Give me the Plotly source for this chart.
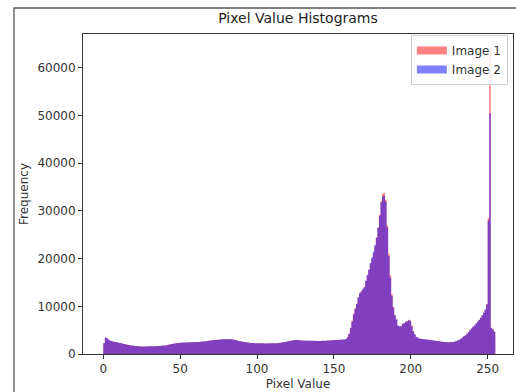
import plotly.graph_objects as go

# Histogram counts per bin (256 bins spanning pixel values 0..255)
image_1 = [
    2300, 3500, 3300, 3050, 2850, 2700, 2600, 2550, 2480, 2420,
    2350, 2280, 2200, 2120, 2050, 1980, 1900, 1850, 1800, 1750,
    1700, 1660, 1630, 1600, 1590, 1570, 1560, 1580, 1590, 1600,
    1610, 1600, 1620, 1640, 1650, 1660, 1680, 1700, 1730, 1760,
    1800, 1860, 1930, 2000, 2080, 2150, 2200, 2250, 2290, 2330,
    2360, 2380, 2400, 2390, 2420, 2450, 2430, 2460, 2480, 2500,
    2520, 2540, 2530, 2560, 2600, 2620, 2650, 2700, 2760, 2810,
    2850, 2900, 2930, 2960, 2990, 3020, 3050, 3070, 3080, 3100,
    3110, 3100, 3090, 3080, 3050, 3000, 2920, 2830, 2740, 2660,
    2600, 2550, 2500, 2450, 2400, 2360, 2320, 2300, 2280, 2260,
    2250, 2240, 2240, 2230, 2230, 2220, 2220, 2230, 2230, 2240,
    2250, 2250, 2260, 2280, 2300, 2340, 2400, 2460, 2520, 2580,
    2640, 2700, 2760, 2820, 2880, 2920, 2950, 2930, 2880, 2850,
    2830, 2810, 2800, 2790, 2780, 2780, 2770, 2760, 2760, 2750,
    2740, 2750, 2760, 2770, 2780, 2800, 2820, 2840, 2860, 2880,
    2900, 2920, 2940, 2960, 2980, 3000, 3020, 3060, 3150, 3600,
    4300, 5500, 7000, 8500, 9600, 10600, 11800, 12700, 13200, 13600,
    14100, 15300, 16500, 17700, 18900, 20000, 21100, 22600, 24500, 26600,
    29200, 32100, 33600, 33800, 32300, 27000, 21000, 16500, 12500, 9900,
    8200, 7200, 6000, 5700, 5900, 6300, 6500, 6700, 6900, 7200,
    7000, 6000, 4800, 4100, 3600, 3400, 3250, 3200, 3150, 3100,
    3060, 3020, 2980, 2940, 2900, 2850, 2800, 2750, 2700, 2650,
    2600, 2560, 2520, 2500, 2480, 2480, 2490, 2500, 2540, 2600,
    2700, 2850, 3000, 3200, 3450, 3700, 3950, 4250, 4600, 5000,
    5350, 5700, 6000, 6400, 6800, 7150, 7600, 8100, 8700, 9300,
    10500, 28500, 63900, 5500, 5200, 4700,
]

image_2 = [
    2250, 3400, 3350, 3000, 2800, 2720, 2580, 2520, 2500, 2400,
    2330, 2300, 2180, 2100, 2060, 1960, 1910, 1830, 1790, 1760,
    1680, 1670, 1620, 1610, 1580, 1580, 1550, 1570, 1600, 1590,
    1600, 1610, 1610, 1650, 1640, 1670, 1670, 1710, 1720, 1770,
    1790, 1850, 1940, 1990, 2070, 2160, 2190, 2260, 2280, 2340,
    2350, 2390, 2390, 2400, 2410, 2440, 2440, 2450, 2490, 2490,
    2530, 2530, 2540, 2550, 2610, 2610, 2660, 2690, 2770, 2800,
    2860, 2890, 2940, 2950, 3000, 3010, 3060, 3060, 3090, 3090,
    3120, 3090, 3100, 3070, 3060, 2990, 2930, 2820, 2750, 2650,
    2610, 2540, 2510, 2440, 2410, 2350, 2330, 2290, 2290, 2250,
    2260, 2230, 2250, 2220, 2240, 2210, 2230, 2220, 2240, 2230,
    2260, 2240, 2270, 2270, 2310, 2330, 2410, 2450, 2530, 2570,
    2650, 2690, 2770, 2810, 2890, 2910, 2960, 2920, 2890, 2840,
    2840, 2800, 2810, 2780, 2790, 2770, 2780, 2750, 2770, 2740,
    2750, 2740, 2770, 2760, 2790, 2790, 2830, 2830, 2870, 2870,
    2910, 2910, 2950, 2950, 2990, 2990, 3030, 3050, 3120, 3500,
    4200, 5400, 6800, 8300, 9500, 10500, 11900, 12800, 13100, 13700,
    14000, 15400, 16600, 17600, 19100, 20300, 21500, 22900, 24300, 26400,
    29000, 31800, 33000, 33200, 32000, 26500, 20500, 16000, 12200, 9700,
    8100, 7300, 5900, 5800, 5800, 6400, 6400, 6800, 6800, 7100,
    6900, 5900, 4700, 4150, 3550, 3420, 3200, 3220, 3120, 3110,
    3040, 3030, 2960, 2950, 2880, 2860, 2780, 2760, 2690, 2660,
    2590, 2570, 2510, 2510, 2470, 2490, 2480, 2510, 2530, 2610,
    2690, 2860, 2990, 3210, 3430, 3710, 3930, 4260, 4580, 5010,
    5330, 5710, 5980, 6410, 6780, 7160, 7580, 8110, 8680, 9310,
    10400, 28000, 50500, 5450, 5150, 4650,
]

series_names = ["Image 1", "Image 2"]
x_ticks = [0, 50, 100, 150, 200, 250]
y_ticks = [0, 10000, 20000, 30000, 40000, 50000, 60000]

PIX_MIN, PIX_MAX, N_BINS = 0, 255, 256
bw = (PIX_MAX - PIX_MIN) / N_BINS
edges = [PIX_MIN + i * bw for i in range(N_BINS + 1)]

fill_colors = ["rgba(255,0,0,0.5)", "rgba(0,0,255,0.5)"]
legend_colors = ["#ff8080", "#8080ff"]

fig = go.Figure()
for name, vals, fc in zip(series_names, [image_1, image_2], fill_colors):
    fig.add_trace(go.Scatter(
        x=edges, y=vals + [vals[-1]],
        mode="lines", line=dict(shape="hv", width=0, color=fc),
        fill="tozeroy", fillcolor=fc, showlegend=False, hoverinfo="skip",
    ))
for name, lc in zip(series_names, legend_colors):
    fig.add_trace(go.Scatter(
        x=[None], y=[None], mode="lines", name=name,
        line=dict(color=lc, width=8),
    ))

axis_common = dict(
    showgrid=False, zeroline=False, showline=True, linecolor="#333",
    linewidth=1, mirror=True, ticks="outside", ticklen=4, tickcolor="#333",
    tickfont=dict(size=12, color="#333", family="DejaVu Sans"),
)
fig.update_xaxes(range=[-13.2, 266.5], tickvals=x_ticks, tickformat="d",
                 title=dict(text="Pixel Value", standoff=4,
                            font=dict(size=12, color="#333", family="DejaVu Sans")),
                 **axis_common)
fig.update_yaxes(range=[0, 67100], tickvals=y_ticks, tickformat="d",
                 title=dict(text="Frequency", standoff=6,
                            font=dict(size=12, color="#333", family="DejaVu Sans")),
                 **axis_common)

# outer screenshot frame
fig.add_shape(type="path", xref="paper", yref="paper",
              path="M -0.1605 -0.3 L -0.1605 1.0813 L 1.2 1.0813",
              line=dict(color="#555", width=1.3))

fig.update_layout(
    width=516, height=392,
    margin=dict(l=83, r=3, t=34, b=38),
    paper_bgcolor="white", plot_bgcolor="white",
    font=dict(family="DejaVu Sans", color="#333"),
    title=dict(text="Pixel Value Histograms", x=0.5775, xanchor="center",
               y=0.955, yanchor="middle",
               font=dict(size=14, color="#222", family="DejaVu Sans")),
    legend=dict(x=0.988, xanchor="right", y=0.997, yanchor="top",
                bgcolor="rgba(255,255,255,0.8)", bordercolor="#d0d0d0",
                borderwidth=1, font=dict(size=12, color="#333"),
                itemwidth=30, tracegroupgap=0),
    showlegend=True,
)

fig.write_html("out.html", config={"displayModeBar": False},
               post_script="document.body.style.margin='0';")
